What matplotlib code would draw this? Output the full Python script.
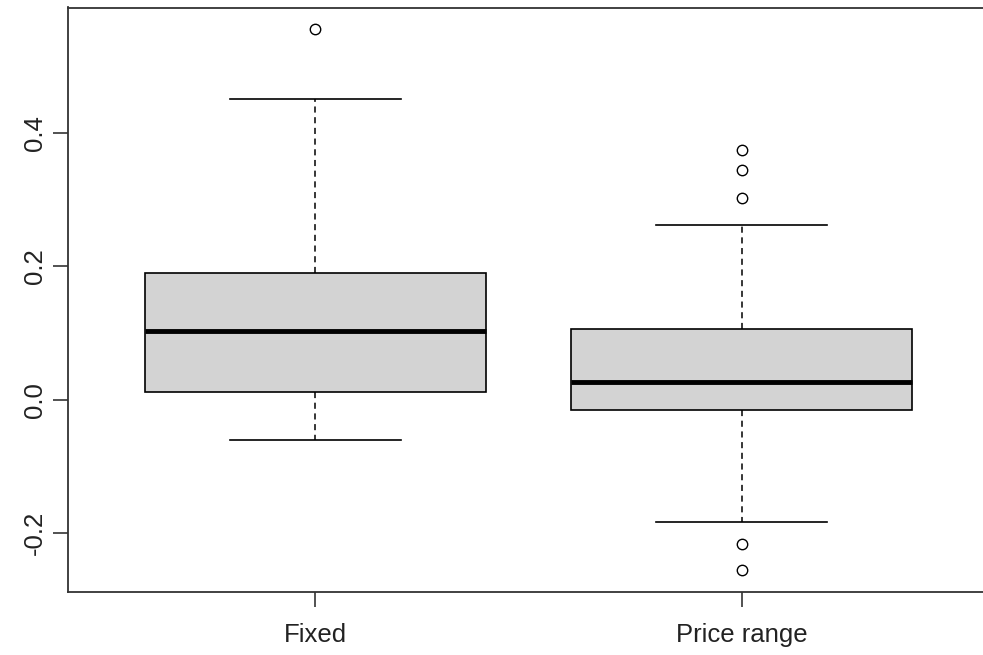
import matplotlib
matplotlib.use('Agg')
import matplotlib.pyplot as plt

# five-number summaries
groups = ['Fixed', 'Price range']
lower_whisker = [-0.060, -0.184]
q1 = [0.012, -0.015]
median = [0.103, 0.027]
q3 = [0.190, 0.106]
upper_whisker = [0.451, 0.262]
outliers = [[0.556], [0.375, 0.345, 0.303, -0.217, -0.255]]

plt.rcParams['font.family'] = ['Liberation Sans', 'DejaVu Sans']

stats = []
for i in range(len(groups)):
    stats.append({'label': groups[i], 'whislo': lower_whisker[i], 'q1': q1[i],
                  'med': median[i], 'q3': q3[i], 'whishi': upper_whisker[i],
                  'fliers': outliers[i]})

fig = plt.figure(figsize=(9.83, 6.55), dpi=100)
# R-style axes, right side runs off the canvas like the reference crop
ax = fig.add_axes([68 / 983, 63.5 / 655, 921 / 983, 584 / 655])

ax.bxp(stats, positions=[1, 2], widths=0.8, patch_artist=True, showfliers=True,
       boxprops=dict(facecolor='#d3d3d3', edgecolor='black', linewidth=1.2),
       medianprops=dict(color='black', linewidth=3.5, solid_capstyle='butt'),
       whiskerprops=dict(color='black', linewidth=1.1, linestyle=(0, (4, 3))),
       capprops=dict(color='black', linewidth=1.2),
       capwidths=0.4,
       flierprops=dict(marker='o', markerfacecolor='none', markeredgecolor='black',
                       markersize=7.5, markeredgewidth=1.0))

ax.set_xlim(0.42, 2.58)
ax.set_ylim(-0.2875, 0.588)
ax.set_yticks([-0.2, 0.0, 0.2, 0.4])
ax.set_yticklabels(['-0.2', '0.0', '0.2', '0.4'], rotation=90, va='center')
ax.set_xticks([1, 2])
ax.set_xticklabels(groups)

ax.tick_params(axis='both', direction='out', length=11, width=1.2, colors='#333333',
               labelsize=18.5, labelcolor='#222222')
ax.tick_params(axis='x', pad=12)
ax.tick_params(axis='y', pad=4)
for s in ax.spines.values():
    s.set_linewidth(1.3)
    s.set_color('#333333')

fig.savefig('out.png', dpi=100)
